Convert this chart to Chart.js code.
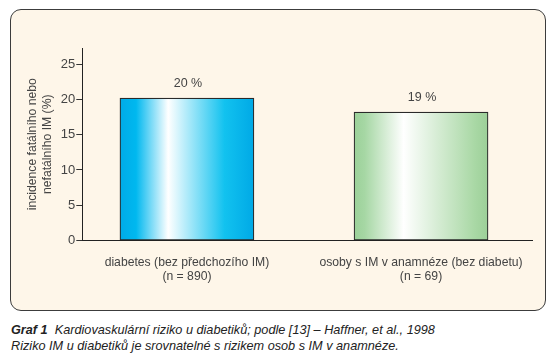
<!DOCTYPE html>
<html><head><meta charset="utf-8">
<script src="https://cdn.jsdelivr.net/npm/chart.js@4"></script>
<style>
html,body{margin:0;padding:0;background:#fff;width:554px;height:359px;overflow:hidden;}
#panel{position:absolute;left:10px;top:9px;width:534px;height:300px;border:1px solid #3c3c3c;border-radius:11px;background:#fef6e9;}
#wrap{position:absolute;left:0;top:0;width:554px;height:312px;}
#cap{position:absolute;left:11px;top:322px;font:italic 12.7px "Liberation Sans",Arial,sans-serif;color:#222;line-height:16px;white-space:nowrap;}
</style></head><body>
<div id="panel"></div>
<div id="wrap"><canvas id="c" width="554" height="312"></canvas></div>
<div id="cap"><b>Graf 1</b>&nbsp; Kardiovaskulární riziko u diabetiků; podle [13] – Haffner, et al., 1998<br>Riziko IM u diabetiků je srovnatelné s rizikem osob s IM v anamnéze.</div>
<script>
const categories = [
  ['diabetes (bez předchozího IM)', '(n = 890)'],
  ['osoby s IM v anamnéze (bez diabetu)', '(n = 69)']
];
const categoryIndex = [0, 1];
const values = [20.2, 18.2];
const valueLabels = ['20 %', '19 %'];
const yTicks = [0, 5, 10, 15, 20, 25];
const yTitle = ['incidence fatálního nebo', 'nefatálního IM (%)'];
const gradientStops = [
  [[0, '#00abe8'], [0.12, '#00b8ef'], [0.36, '#ffffff'], [0.78, '#12c2ef'], [1, '#00a9e6']],
  [[0, '#9bd199'], [0.08, '#a6d7a4'], [0.37, '#ffffff'], [0.9, '#a9d8a5'], [1, '#9ccf98']]
];

const FONT = '"Liberation Sans", Arial, sans-serif';
const BAR_W = 134;

const valueLabelPlugin = {
  id: 'valueLabels',
  afterDatasetsDraw(chart) {
    const ctx = chart.ctx;
    const meta = chart.getDatasetMeta(0);
    ctx.save();
    ctx.font = '12.5px ' + FONT;
    ctx.fillStyle = '#444';
    ctx.textAlign = 'center';
    ctx.textBaseline = 'middle';
    meta.data.forEach((bar, i) => {
      ctx.fillText(valueLabels[i], bar.x + 1, bar.y - 15);
    });
    ctx.restore();
  }
};

new Chart(document.getElementById('c'), {
  type: 'bar',
  data: {
    datasets: [{
      data: categoryIndex.map((x, i) => ({x: x, y: values[i]})),
      barThickness: BAR_W,
      borderColor: '#2a2a2a',
      borderWidth: 1.2,
      borderSkipped: false,
      backgroundColor: (c) => {
        const chart = c.chart;
        const xs = chart.scales && chart.scales.x;
        if (c.type !== 'data' || !xs || !isFinite(xs.left)) return gradientStops[0][0][1];
        const cx = xs.getPixelForValue(categoryIndex[c.dataIndex]);
        const g = chart.ctx.createLinearGradient(cx - BAR_W / 2, 0, cx + BAR_W / 2, 0);
        gradientStops[c.dataIndex].forEach(s => g.addColorStop(s[0], s[1]));
        return g;
      }
    }]
  },
  options: {
    responsive: false,
    animation: false,
    layout: {padding: {top: 48, left: 0, right: 21.3, bottom: 21.5}},
    plugins: {legend: {display: false}, tooltip: {enabled: false}},
    scales: {
      x: {
        type: 'linear',
        offset: false,
        min: -0.447,
        max: 1.477,
        grid: {display: false, offset: false},
        border: {display: true, color: '#222', width: 1},
        afterBuildTicks: (s) => { s.ticks = categoryIndex.map(v => ({value: v})); },
        afterFit: (s) => { s.height = 50; },
        ticks: {
          autoSkip: false,
          maxRotation: 0,
          padding: 7.5,
          color: '#444',
          font: {family: FONT, size: 12.2, lineHeight: 14 / 12.2},
          callback: (v) => categories[v]
        }
      },
      y: {
        min: 0,
        max: 27.3,
        afterBuildTicks: (s) => { s.ticks = yTicks.map(v => ({value: v})); },
        afterFit: (s) => { s.width = 82.3; },
        grid: {drawOnChartArea: false, tickLength: 6, color: '#333'},
        border: {display: true, color: '#222', width: 1},
        ticks: {
          padding: 1,
          color: '#444',
          font: {family: FONT, size: 13}
        },
        title: {
          display: true,
          text: yTitle,
          color: '#444',
          font: {family: FONT, size: 12.2, lineHeight: 14.5 / 12.2},
          padding: {top: 25.75, bottom: 0}
        }
      }
    }
  },
  plugins: [valueLabelPlugin]
});
</script>
</body></html>
